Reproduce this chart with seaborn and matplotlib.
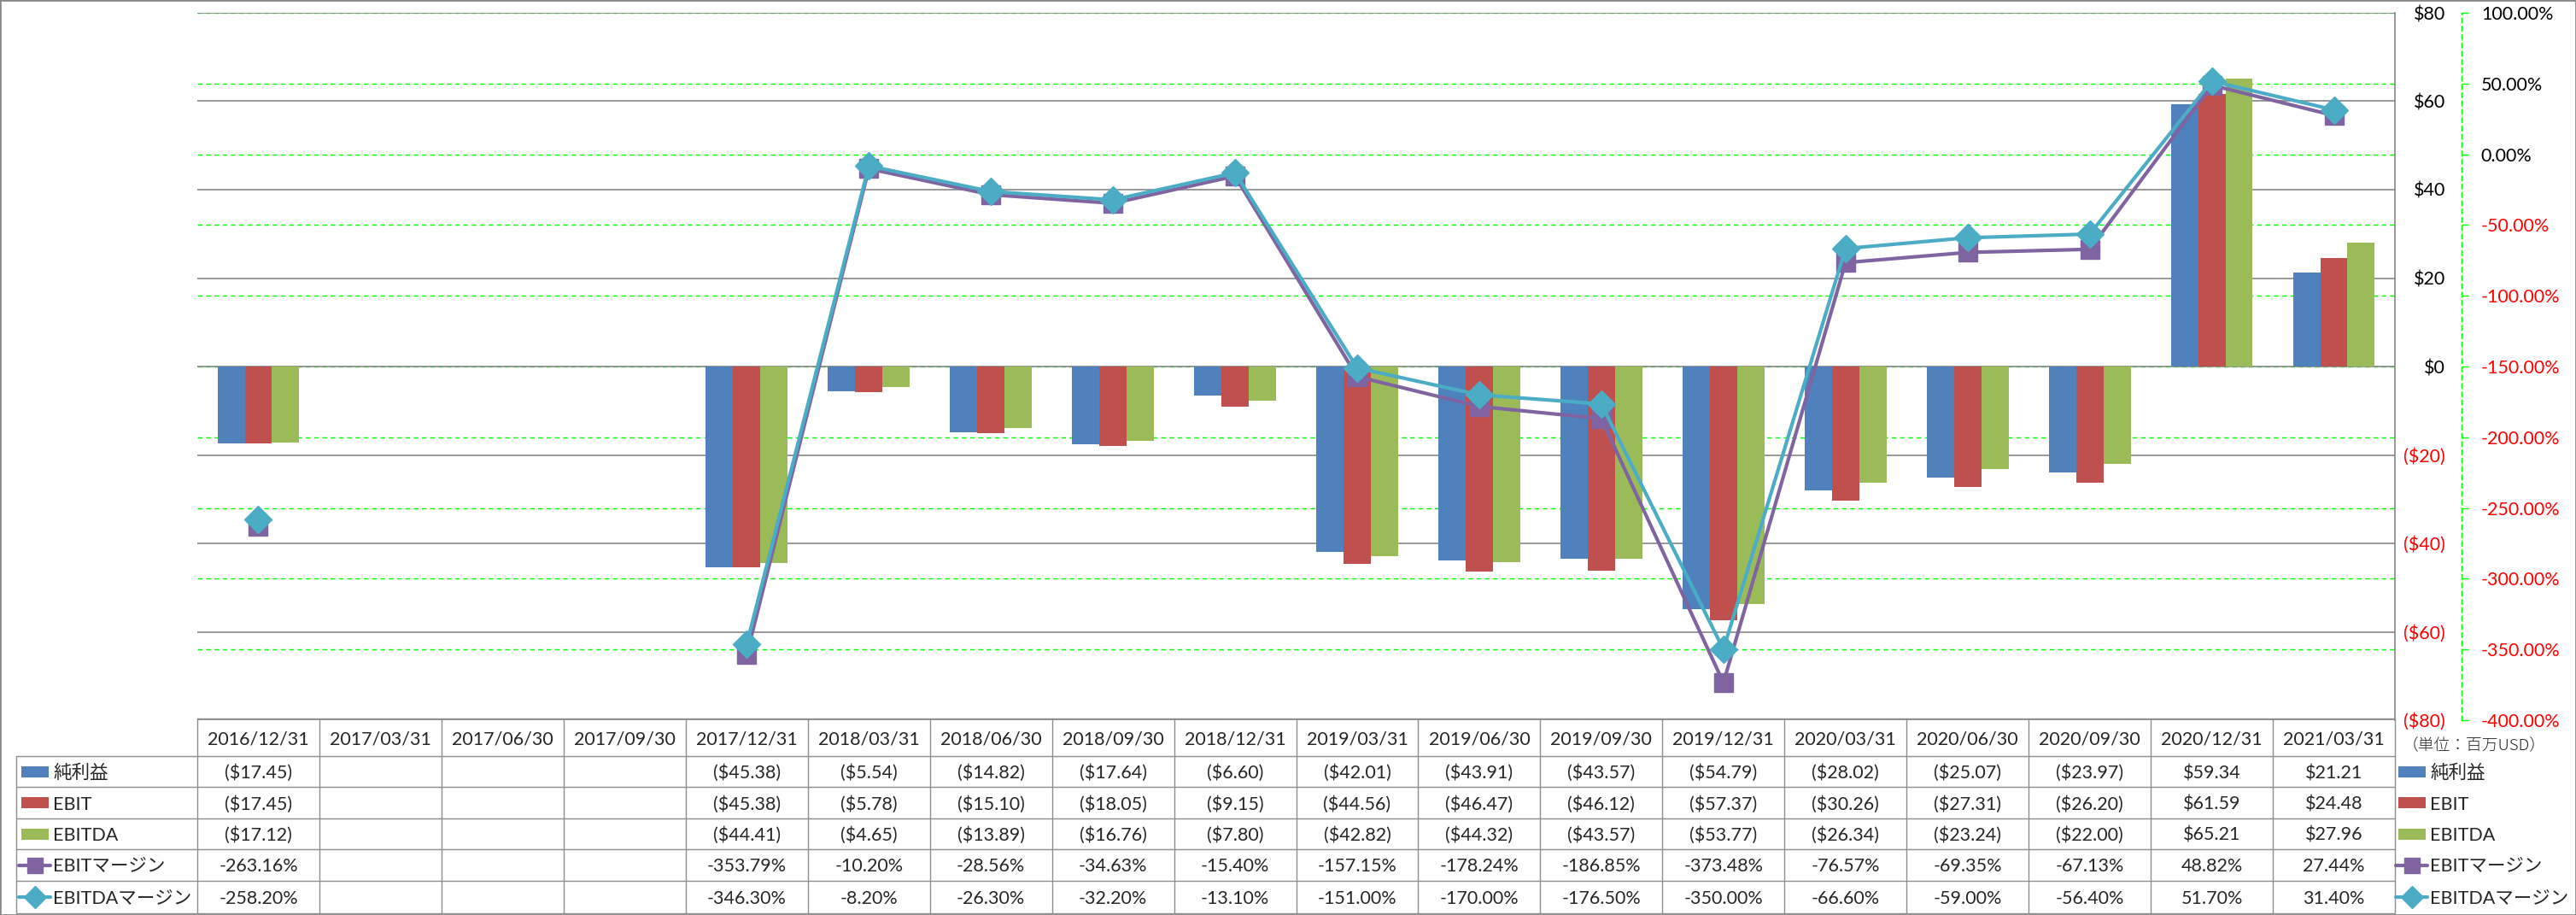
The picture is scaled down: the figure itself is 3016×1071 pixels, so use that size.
import numpy as np
import pandas as pd
import matplotlib
matplotlib.use("Agg")
import matplotlib.pyplot as plt
from matplotlib.patches import Rectangle
from matplotlib.lines import Line2D
import seaborn as sns

nan = np.nan
dates = ["2016/12/31", "2017/03/31", "2017/06/30", "2017/09/30", "2017/12/31",
         "2018/03/31", "2018/06/30", "2018/09/30", "2018/12/31", "2019/03/31",
         "2019/06/30", "2019/09/30", "2019/12/31", "2020/03/31", "2020/06/30",
         "2020/09/30", "2020/12/31", "2021/03/31"]
net_income = [-17.45, nan, nan, nan, -45.38, -5.54, -14.82, -17.64, -6.60, -42.01,
              -43.91, -43.57, -54.79, -28.02, -25.07, -23.97, 59.34, 21.21]
ebit = [-17.45, nan, nan, nan, -45.38, -5.78, -15.10, -18.05, -9.15, -44.56,
        -46.47, -46.12, -57.37, -30.26, -27.31, -26.20, 61.59, 24.48]
ebitda = [-17.12, nan, nan, nan, -44.41, -4.65, -13.89, -16.76, -7.80, -42.82,
          -44.32, -43.57, -53.77, -26.34, -23.24, -22.00, 65.21, 27.96]
ebit_margin = [-263.16, nan, nan, nan, -353.79, -10.20, -28.56, -34.63, -15.40, -157.15,
               -178.24, -186.85, -373.48, -76.57, -69.35, -67.13, 48.82, 27.44]
ebitda_margin = [-258.20, nan, nan, nan, -346.30, -8.20, -26.30, -32.20, -13.10, -151.00,
                 -170.00, -176.50, -350.00, -66.60, -59.00, -56.40, 51.70, 31.40]
bar_names = ["純利益", "EBIT", "EBITDA"]
line_names = ["EBITマージン", "EBITDAマージン"]
usd_ticks = [-80, -60, -40, -20, 0, 20, 40, 60, 80]
pct_ticks = [-400, -350, -300, -250, -200, -150, -100, -50, 0, 50, 100]
unit_label = "（単位：百万USD）"

C_BLUE, C_RED, C_GREEN = "#4F81BD", "#C0504D", "#9BBB59"
C_PURPLE, C_TEAL = "#8064A2", "#4BACC6"
GRID_GRAY = "#868686"
LIME = "#00FF00"

sns.set_theme(style="white")
plt.rcParams["font.family"] = ["Lato", "Noto Sans CJK JP"]

W, H = 3016, 1071
fig = plt.figure(figsize=(W / 100, H / 100), dpi=100)

PL, PR, PT, PB = 231, 2804, 15, 843
rect = [PL / W, 1 - PB / H, (PR - PL) / W, (PB - PT) / H]

# percent axis (bottom layer: green grid, dashed spine, labels)
axp = fig.add_axes(rect, zorder=0)
axp.set_xlim(-0.5, len(dates) - 0.5)
axp.set_ylim(-400, 100)
axp.set_yticks(pct_ticks)
axp.yaxis.tick_right()
axp.set_xticks([])
for s in ["left", "top", "bottom"]:
    axp.spines[s].set_visible(False)
axp.spines["right"].set_position(("outward", 56))
axp.spines["right"].set_color(LIME)
axp.spines["right"].set_linestyle((0, (4, 3)))
axp.spines["right"].set_linewidth(1.0)
axp.tick_params(axis="y", direction="out", length=5.8, width=1.0, color=LIME,
                pad=10.8, labelsize=15.5)
axp.set_yticklabels([f"{v:.2f}%" for v in pct_ticks])
for t, v in zip(axp.get_yticklabels(), pct_ticks):
    t.set_color("#FF0000" if v < 0 else "black")
axp.grid(axis="y", color=LIME, linestyle=(0, (4, 3)), linewidth=1.0)
axp.grid(axis="x", visible=False)

# bars axis
axb = fig.add_axes(rect, zorder=1)
axb.patch.set_visible(False)
df = pd.DataFrame({
    "date": dates * 3,
    "series": [bar_names[0]] * len(dates) + [bar_names[1]] * len(dates) + [bar_names[2]] * len(dates),
    "value": net_income + ebit + ebitda,
})
sns.barplot(data=df, x="date", y="value", hue="series", order=dates, hue_order=bar_names,
            palette=[C_BLUE, C_RED, C_GREEN], width=0.67, errorbar=None, legend=False,
            saturation=1, linewidth=0, edgecolor="none", ax=axb, zorder=2)
axb.set_xlim(-0.5, len(dates) - 0.5)
axb.set_ylim(-80, 80)
axb.set_yticks(usd_ticks)
axb.yaxis.tick_right()
axb.set_xlabel("")
axb.set_ylabel("")
axb.set_xticks([])
for s in ["left", "top", "bottom"]:
    axb.spines[s].set_visible(False)
axb.spines["right"].set_color(GRID_GRAY)
axb.spines["right"].set_linewidth(1.2)
axb.tick_params(axis="y", length=0, pad=42.5, labelsize=15.5)
axb.set_yticklabels([("$%d" % v) if v >= 0 else ("($%d)" % -v) for v in usd_ticks])
for t, v in zip(axb.get_yticklabels(), usd_ticks):
    t.set_ha("right")
    t.set_color("#FF0000" if v < 0 else "black")
axb.set_axisbelow(True)
axb.grid(axis="y", color=GRID_GRAY, linewidth=1.2, linestyle="-")
axb.grid(axis="x", visible=False)

# lines axis
axl = fig.add_axes(rect, zorder=2)
axl.patch.set_visible(False)
axl.set_xlim(-0.5, len(dates) - 0.5)
axl.set_ylim(-400, 100)
axl.axis("off")
xs = np.arange(len(dates))
axl.plot(xs, ebit_margin, color=C_PURPLE, lw=3.0, marker="s", ms=15.5,
         mec=C_PURPLE, mew=1.0, solid_joinstyle="round", clip_on=False)
axl.plot(xs, ebitda_margin, color=C_TEAL, lw=3.0, marker="D", ms=16,
         mec=C_TEAL, mew=1.0, solid_joinstyle="round", clip_on=False)

# table in pixel coordinates
tab = fig.add_axes([0, 0, 1, 1], zorder=3)
tab.patch.set_visible(False)
tab.set_xlim(0, W)
tab.set_ylim(H, 0)
tab.axis("off")

LX = 19
colw = (PR - PL) / len(dates)
rows_y = [841, 885, 921, 958, 994, 1031, 1069]
TC = "#8E8E8E"
tab.plot([PL, PR], [rows_y[0], rows_y[0]], color=TC, lw=1.0)
for y in rows_y[1:]:
    tab.plot([LX, PR], [y, y], color=TC, lw=1.0)
tab.plot([LX, LX], [rows_y[1], rows_y[-1]], color=TC, lw=1.0)
for k in range(len(dates) + 1):
    x = PL + k * colw
    tab.plot([x, x], [rows_y[0], rows_y[-1]], color=TC, lw=1.0)

FS = 15.5
for i, d in enumerate(dates):
    cx = PL + (i + 0.5) * colw
    tab.text(cx, (rows_y[0] + rows_y[1]) / 2, d, ha="center", va="center_baseline", fontsize=FS)


def fmt_usd(v):
    if np.isnan(v):
        return ""
    return ("$%.2f" % v) if v >= 0 else ("($%.2f)" % -v)


def fmt_pct(v):
    if np.isnan(v):
        return ""
    return "%.2f%%" % v


series_rows = [(net_income, fmt_usd), (ebit, fmt_usd), (ebitda, fmt_usd),
               (ebit_margin, fmt_pct), (ebitda_margin, fmt_pct)]
for r, (vals, f) in enumerate(series_rows):
    cy = (rows_y[r + 1] + rows_y[r + 2]) / 2
    for i, v in enumerate(vals):
        cx = PL + (i + 0.5) * colw
        tab.text(cx, cy, f(v), ha="center", va="center_baseline", fontsize=FS)

names = bar_names + line_names
key_colors = [C_BLUE, C_RED, C_GREEN, C_PURPLE, C_TEAL]
key_markers = [None, None, None, "s", "D"]


def draw_key(x0, cy, color, marker):
    if marker is None:
        tab.add_patch(Rectangle((x0, cy - 6.5), 32, 13, color=color, lw=0))
    else:
        tab.add_line(Line2D([x0 - 3, x0 + 34], [cy, cy], color=color, lw=3.0))
        tab.add_line(Line2D([x0 + 15.5], [cy], color=color, marker=marker,
                            ms=13 if marker == "s" else 13.5, mec=color, lw=0))


for r in range(5):
    cy = (rows_y[r + 1] + rows_y[r + 2]) / 2
    draw_key(25, cy, key_colors[r], key_markers[r])
    tab.text(62, cy, names[r], ha="left", va="center_baseline", fontsize=FS)
    draw_key(2808, cy, key_colors[r], key_markers[r])
    tab.text(2845, cy, names[r], ha="left", va="center_baseline", fontsize=FS)

tab.text(2897, 872, unit_label, ha="center", va="center", fontsize=13.5,
         family=["Noto Sans CJK JP"], fontweight="light")

fig.patches.append(Rectangle((0, 0), 1, 1, transform=fig.transFigure, fill=False,
                             edgecolor="#8A8A8A", lw=2.0))

fig.savefig("out.png", dpi=100)
